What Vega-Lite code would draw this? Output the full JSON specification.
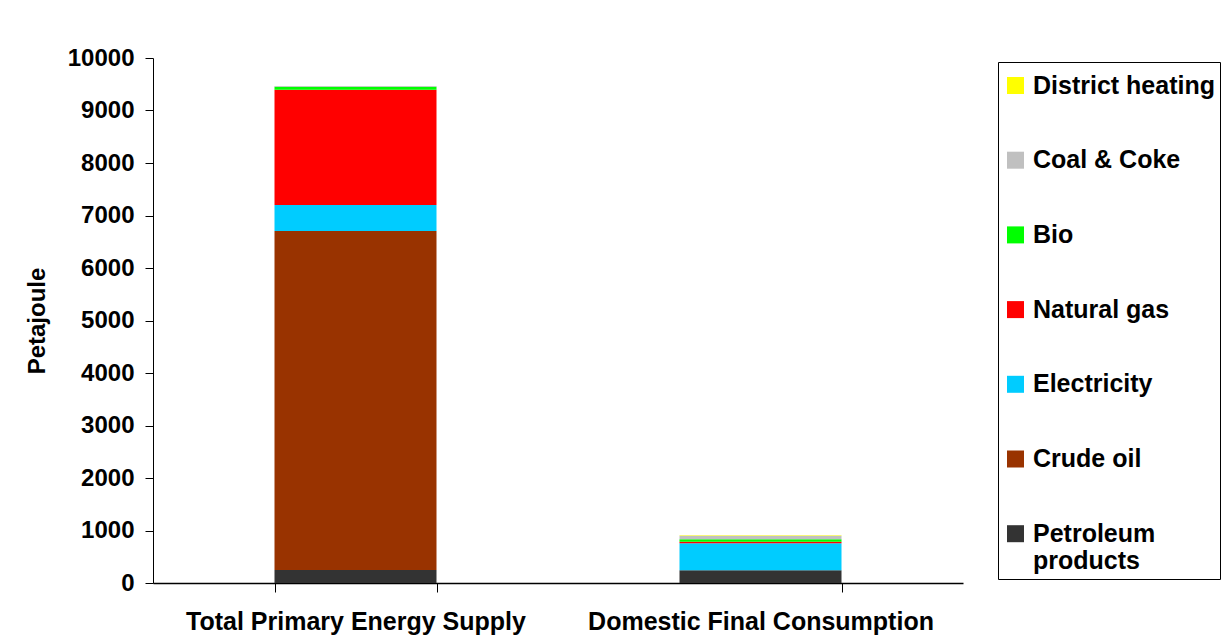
{
  "$schema": "https://vega.github.io/schema/vega-lite/v6.json",
  "autosize": {"type": "none"},
  "width": 810,
  "height": 525,
  "padding": {"left": 153, "top": 58, "right": 266, "bottom": 58},
  "background": "white",
  "data": {
    "values": [
      {"cat": "Total Primary Energy Supply", "source": "Petroleum products", "rank": 1, "pj": 248},
      {"cat": "Total Primary Energy Supply", "source": "Crude oil", "rank": 2, "pj": 6457},
      {"cat": "Total Primary Energy Supply", "source": "Electricity", "rank": 3, "pj": 495},
      {"cat": "Total Primary Energy Supply", "source": "Natural gas", "rank": 4, "pj": 2197},
      {"cat": "Total Primary Energy Supply", "source": "Bio", "rank": 5, "pj": 56},
      {"cat": "Total Primary Energy Supply", "source": "Coal & Coke", "rank": 6, "pj": 14},
      {"cat": "Total Primary Energy Supply", "source": "District heating", "rank": 7, "pj": 0},
      {"cat": "Domestic Final Consumption", "source": "Petroleum products", "rank": 1, "pj": 245},
      {"cat": "Domestic Final Consumption", "source": "Crude oil", "rank": 2, "pj": 0},
      {"cat": "Domestic Final Consumption", "source": "Electricity", "rank": 3, "pj": 514},
      {"cat": "Domestic Final Consumption", "source": "Natural gas", "rank": 4, "pj": 25},
      {"cat": "Domestic Final Consumption", "source": "Bio", "rank": 5, "pj": 51},
      {"cat": "Domestic Final Consumption", "source": "Coal & Coke", "rank": 6, "pj": 63},
      {"cat": "Domestic Final Consumption", "source": "District heating", "rank": 7, "pj": 13}
    ]
  },
  "mark": {"type": "bar"},
  "encoding": {
    "x": {
      "field": "cat",
      "type": "nominal",
      "sort": ["Total Primary Energy Supply", "Domestic Final Consumption"],
      "scale": {"paddingInner": 0.6, "paddingOuter": 0.3},
      "axis": {
        "title": null,
        "labelAngle": 0,
        "labelFont": "Liberation Sans",
        "labelFontWeight": "bold",
        "labelFontSize": 25,
        "labelColor": "black",
        "labelPadding": 17,
        "labelLimit": 0,
        "tickBand": "extent",
        "tickSize": 9,
        "tickColor": "black",
        "domainColor": "black",
        "domainWidth": 1.5,
        "grid": false
      }
    },
    "y": {
      "field": "pj",
      "type": "quantitative",
      "stack": "zero",
      "scale": {"domain": [0, 10000], "nice": false},
      "axis": {
        "title": "Petajoule",
        "titleFont": "Liberation Sans",
        "titleFontSize": 24,
        "titleFontWeight": "bold",
        "titleColor": "black",
        "titlePadding": 18,
        "values": [0, 1000, 2000, 3000, 4000, 5000, 6000, 7000, 8000, 9000, 10000],
        "format": "d",
        "labelFont": "Liberation Sans",
        "labelFontWeight": "bold",
        "labelFontSize": 24,
        "labelColor": "black",
        "labelPadding": 11,
        "tickSize": 8,
        "tickColor": "black",
        "domainColor": "black",
        "grid": false
      }
    },
    "color": {
      "field": "source",
      "type": "nominal",
      "scale": {
        "domain": ["District heating", "Coal & Coke", "Bio", "Natural gas", "Electricity", "Crude oil", "Petroleum products"],
        "range": ["#FFFF00", "#C0C0C0", "#00FF00", "#FF0000", "#00CCFF", "#993300", "#333333"]
      },
      "legend": {
        "title": " ",
        "titleFontSize": 2,
        "titlePadding": 4,
        "orient": "none",
        "legendX": 845,
        "legendY": 4,
        "padding": 5,
        "strokeColor": "black",
        "fillColor": "white",
        "symbolType": "square",
        "symbolSize": 289,
        "symbolStrokeWidth": 0,
        "symbolOpacity": 1,
        "labelFont": "Liberation Sans",
        "labelFontWeight": "bold",
        "labelFontSize": 25,
        "labelLineHeight": 30,
        "labelColor": "black",
        "labelOffset": 5,
        "labelLimit": 300,
        "rowPadding": 48.7,
        "labelExpr": "datum.label == 'Petroleum products' ? ['Petroleum', 'products'] : datum.label"
      }
    },
    "order": {"field": "rank", "type": "quantitative"}
  },
  "config": {
    "view": {"stroke": null}
  }
}
